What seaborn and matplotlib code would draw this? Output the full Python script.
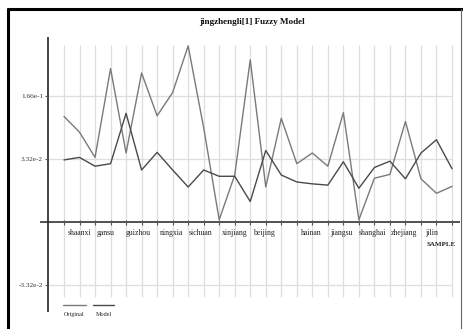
import matplotlib
matplotlib.use("Agg")
import matplotlib.pyplot as plt
from matplotlib.lines import Line2D
import numpy as np
import pandas as pd
import seaborn as sns

sns.set_style("white")
plt.rcParams["font.family"] = ["Liberation Serif", "DejaVu Serif"]

# sample values, in units of one y-tick step
original = [1.68, 1.43, 1.03, 2.44, 1.10, 2.37, 1.69, 2.06, 2.80, 1.50, 0.04, 0.75, 2.58,
            0.56, 1.65, 0.93, 1.10, 0.89, 1.74, 0.04, 0.70, 0.76, 1.60, 0.69, 0.46, 0.57]
model = [0.99, 1.03, 0.89, 0.93, 1.73, 0.83, 1.11, 0.83, 0.56, 0.83, 0.73, 0.73, 0.33,
         1.14, 0.75, 0.64, 0.61, 0.59, 0.96, 0.54, 0.87, 0.97, 0.69, 1.10, 1.31, 0.85]

provinces = ["shaanxi", "gansu", "guizhou", "ningxia", "sichuan", "xinjiang", "beijing",
             "hainan", "jiangsu", "shanghai", "zhejiang", "jilin"]
province_pos = [1.03, 2.7, 4.8, 6.95, 8.8, 11.0, 12.9, 15.9, 17.9, 19.9, 21.9, 23.7]

ytick_vals = [2, 1, -1]
ytick_labels = ["1.66e-1", "3.32e-2", "-3.32e-2"]

n = len(original)
df = pd.DataFrame({
    "sample": list(range(n)) * 2,
    "value": original + model,
    "series": ["Original"] * n + ["Model"] * n,
})
colors = {"Original": "#7a7a7a", "Model": "#4a4a4a"}

fig = plt.figure(figsize=(4.64, 3.29), dpi=100)
ax = fig.add_axes([40 / 464, 17 / 329, 420 / 464, 275 / 329])
xmin, xmax = -1.546, 25.515
ymin, ymax = -1.424, 2.941
y_axis_x = -1.031

# grid
ax.vlines(range(n), -1.186, 2.814, color="#dedede", lw=0.9, zorder=0)
ax.hlines(ytick_vals, y_axis_x, n - 1, color="#dedede", lw=0.9, zorder=0)
# axes lines and small ticks
ax.hlines(0, xmin, xmax, color="#222222", lw=1.1, zorder=1)
ax.vlines(range(n), -0.05, 0.03, color="#555555", lw=0.8, zorder=1)
ax.vlines(y_axis_x, ymin, ymax, color="#222222", lw=1.2, zorder=1)
ax.hlines(ytick_vals, y_axis_x - 0.2, y_axis_x, color="#555555", lw=0.8, zorder=1)

sns.lineplot(data=df, x="sample", y="value", hue="series", palette=colors,
             legend=False, lw=1.0, ax=ax, zorder=3)

ax.set_xlim(xmin, xmax)
ax.set_ylim(ymin, ymax)
ax.set_axis_off()

for v, lab in zip(ytick_vals, ytick_labels):
    ax.text(-1.353, v, lab, ha="right", va="center", fontsize=5.2, color="#333333")

for p, lab in zip(province_pos, provinces):
    ax.text(p, -0.17, lab, ha="center", va="center", fontsize=5.6, color="#222222")
ax.text(23.35, -0.36, "SAMPLE", ha="left", va="center", fontsize=5.0,
        fontweight="bold", color="#222222", clip_on=False)

# legend
ax.plot([-0.064, 1.418], [-1.313, -1.313], color=colors["Original"], lw=1.0, clip_on=False)
ax.plot([1.87, 3.22], [-1.313, -1.313], color=colors["Model"], lw=1.0, clip_on=False)
ax.text(0.68, -1.456, "Original", ha="center", va="center", fontsize=4.4, clip_on=False)
ax.text(2.55, -1.456, "Model", ha="center", va="center", fontsize=4.4, clip_on=False)

fig.text(252 / 464, 1 - 22 / 329, "jingzhengli[1] Fuzzy Model", ha="center", va="center",
         fontsize=6.6, fontweight="bold", color="#111111")

# window frame
fig.add_artist(Line2D([8 / 464, 8 / 464], [0, 1 - 9 / 329], color="black", lw=2.2,
                      transform=fig.transFigure))
fig.add_artist(Line2D([8 / 464, 462 / 464], [1 - 9 / 329, 1 - 9 / 329], color="black", lw=2.2,
                      transform=fig.transFigure))
fig.add_artist(Line2D([461.5 / 464, 461.5 / 464], [0, 1 - 9 / 329], color="#666666", lw=0.8,
                      transform=fig.transFigure))

fig.savefig("out.png", dpi=100)
